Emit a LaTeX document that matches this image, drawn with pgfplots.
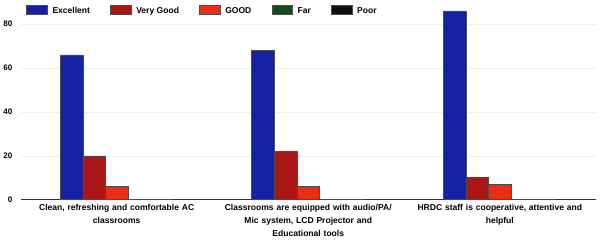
\documentclass[border=0pt]{standalone}
\usepackage{pgfplots}
\pgfplotsset{compat=1.18}
\usepackage{fontspec}
\setmainfont{Liberation Sans}
\definecolor{cEx}{RGB}{22,32,165}
\definecolor{cVG}{RGB}{170,22,22}
\definecolor{cGo}{RGB}{235,45,20}
\definecolor{cFa}{RGB}{20,75,25}
\definecolor{cPo}{RGB}{15,15,15}
\begin{document}
\begin{tikzpicture}
\begin{axis}[
  scale only axis,
  width=570bp, height=198bp,
  ybar=0pt, bar width=0.118,
  xmin=-0.5, xmax=2.5,
  ymin=0, ymax=91,
  xtick=data,
  xticklabels={{Clean, refreshing and comfortable AC\\classrooms},{Classrooms are equipped with audio/PA/\\Mic system, LCD Projector and\\Educational tools},{HRDC staff is cooperative, attentive and\\helpful}},
  xticklabel style={align=center, font=\fontsize{8.5}{13}\selectfont\bfseries, text width=200bp, yshift=-1bp},
  ytick={0,20,40,60,80},
  yticklabel style={font=\fontsize{8}{9}\selectfont\bfseries, xshift=-5bp},
  /pgf/number format/assume math mode=true,
  major tick length=0pt,
  axis x line*=bottom,
  axis y line*=left,
  y axis line style={draw=none},
  x axis line style={line width=1pt, black!80},
  ymajorgrids, grid style={black!6},
  legend columns=5,
  legend style={at={(0.004,0.985)}, anchor=north west, draw=none, fill=none,
    font=\fontsize{8.5}{9}\selectfont\bfseries, column sep=3bp,
    /tikz/every even column/.append style={column sep=18bp}},
  legend image code/.code={\draw[#1, draw=black!70] (0cm,-0.1cm) rectangle (0.72cm,0.2cm);},
  every axis plot/.append style={draw=black!70, line width=0.5pt},
]
\addplot[fill=cEx] coordinates {(0,66) (1,68) (2,86)};
\addplot[fill=cVG] coordinates {(0,20) (1,22) (2,10)};
\addplot[fill=cGo] coordinates {(0,6) (1,6) (2,7)};
\addplot[fill=cFa] coordinates {(0,0) (1,0) (2,0)};
\addplot[fill=cPo] coordinates {(0,0) (1,0) (2,0)};
\legend{Excellent, Very Good, GOOD, Far, Poor}
\end{axis}
\end{tikzpicture}
\end{document}
